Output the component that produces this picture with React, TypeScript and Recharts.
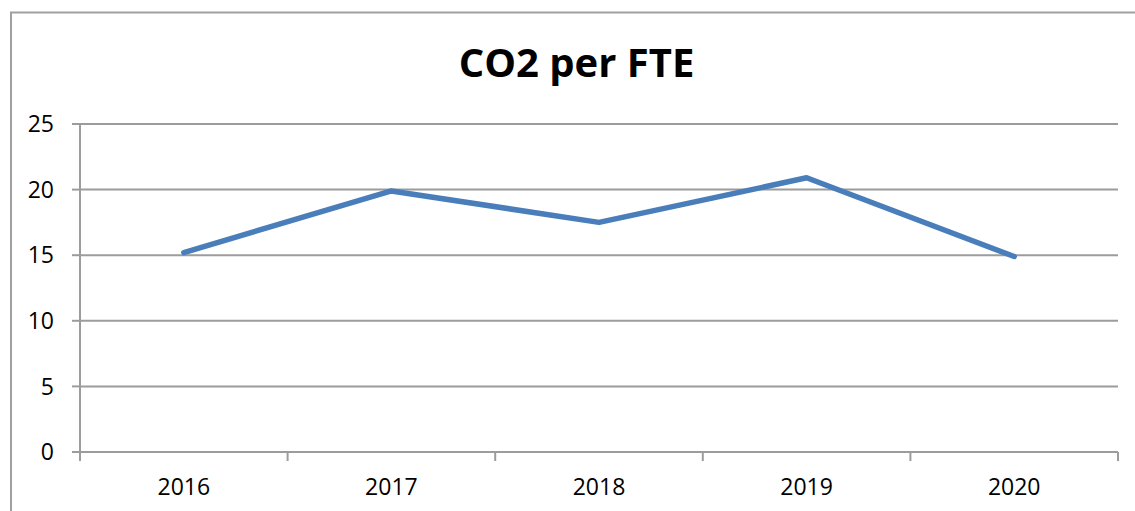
import { CartesianGrid, Line, LineChart, XAxis, YAxis } from "recharts";

const years = ["2016", "2017", "2018", "2019", "2020"];
const co2PerFte = [15.2, 19.9, 17.5, 20.9, 14.9];
const yTicks = [0, 5, 10, 15, 20, 25];

const data = years.map((year, i) => ({ year, co2: co2PerFte[i] }));

const GRID = "#9c9c9c";
const FONT = "'Open Sans', sans-serif";

function YearTick(props: any) {
  const { x, y, payload, index, width, visibleTicksCount } = props;
  const half = width / visibleTicksCount / 2;
  const isLast = index === visibleTicksCount - 1;
  return (
    <g>
      <line x1={x - half} x2={x - half} y1={y} y2={y + 9} stroke={GRID} strokeWidth={2} />
      {isLast && <line x1={x + half} x2={x + half} y1={y} y2={y + 9} stroke={GRID} strokeWidth={2} />}
      <text x={x} y={y + 43} textAnchor="middle" fontSize={23} fontFamily={FONT} fill="#000">
        {payload.value}
      </text>
    </g>
  );
}

export default function App() {
  return (
    <div style={{ position: "absolute", left: 0, top: 0, width: 1135, height: 511, background: "#fff" }}>
      <svg width={1135} height={511} style={{ position: "absolute", left: 0, top: 0 }}>
        <line x1={11} x2={11} y1={12} y2={511} stroke="#a0a0a0" strokeWidth={2} />
        <line x1={10} x2={1135} y1={12.5} y2={12.5} stroke="#a0a0a0" strokeWidth={2} />
        <text x={576.5} y={77} textAnchor="middle" fontSize={40} fontWeight="bold" fontFamily={FONT} fill="#000">
          CO2 per FTE
        </text>
      </svg>
      <div style={{ position: "absolute", left: 0, top: 0 }}>
        <LineChart width={1135} height={511} data={data} margin={{ top: 124, right: 17, bottom: 19, left: 10 }}>
          <CartesianGrid vertical={false} stroke={GRID} strokeWidth={2} />
          <XAxis
            dataKey="year"
            scale="band"
            height={40}
            tickLine={false}
            tickSize={0}
            tickMargin={0}
            axisLine={{ stroke: GRID, strokeWidth: 2 }}
            tick={<YearTick />}
            interval={0}
          />
          <YAxis
            width={70}
            domain={[0, 25]}
            ticks={yTicks}
            interval={0}
            tickSize={8}
            tickMargin={18}
            axisLine={{ stroke: GRID, strokeWidth: 2 }}
            tickLine={{ stroke: GRID, strokeWidth: 2 }}
            tick={{ fontSize: 23, fontFamily: FONT, fill: "#000" }}
          />
          <Line
            type="linear"
            dataKey="co2"
            stroke="#4a7ebb"
            strokeWidth={5.5}
            strokeLinecap="round"
            strokeLinejoin="round"
            dot={false}
            activeDot={false}
            isAnimationActive={false}
          />
        </LineChart>
      </div>
    </div>
  );
}
